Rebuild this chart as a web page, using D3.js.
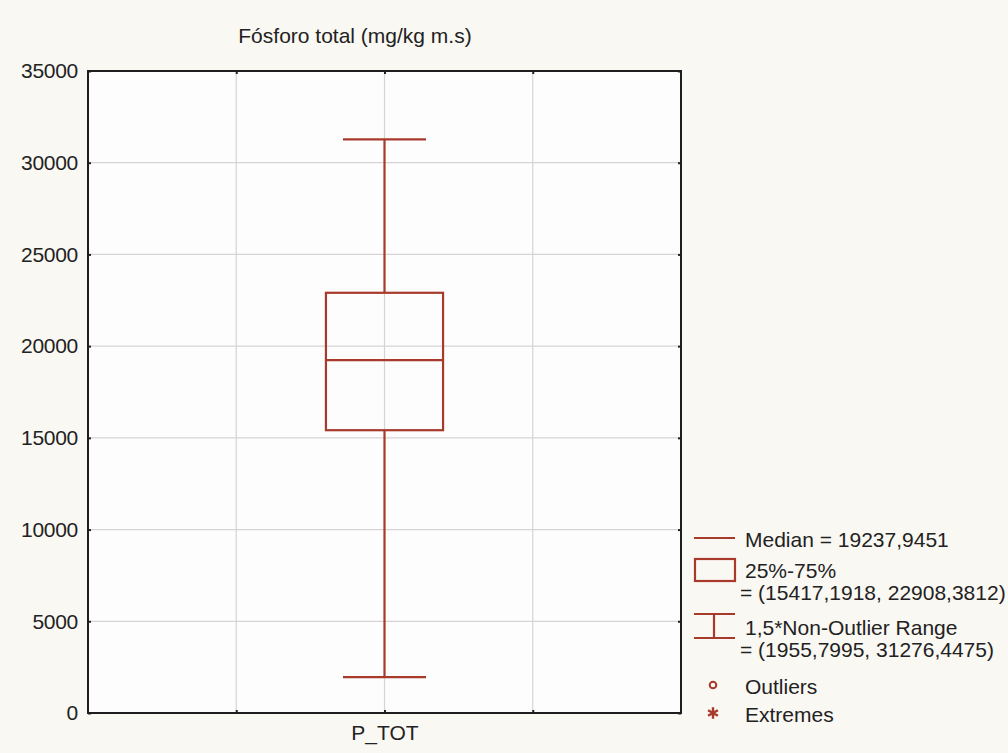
<!DOCTYPE html>
<html><head><meta charset="utf-8">
<script src="https://cdn.jsdelivr.net/npm/d3@7"></script>
<style>
html,body{margin:0;padding:0;background:#faf8f3;}
svg{display:block;font-family:"Liberation Sans",Arial,sans-serif;}
</style></head>
<body><svg id="c" width="1008" height="753"></svg>
<script>
const title = "Fósforo total (mg/kg m.s)";
const categories = ["P_TOT"];
const xSlots = ["", "P_TOT", " "];
const yTicks = [0, 5000, 10000, 15000, 20000, 25000, 30000, 35000];
const q1 = [15417.1918];
const median = [19237.9451];
const q3 = [22908.3812];
const whiskerLow = [1955.7995];
const whiskerHigh = [31276.4475];
const legendLabels = ["Median = 19237,9451", "25%-75%", "= (15417,1918, 22908,3812)",
  "1,5*Non-Outlier Range", "= (1955,7995, 31276,4475)", "Outliers", "Extremes"];

const col = "#a83a2c";
const FS = 21;
const svg = d3.select("#c");
const L = 88, R = 681, T = 71, B = 713;
const x = d3.scalePoint().domain(xSlots).range([L, R]).padding(1);
const y = d3.scaleLinear().domain([0, 35000]).range([B, T]);

svg.append("rect").attr("x", L).attr("y", T).attr("width", R - L).attr("height", B - T).attr("fill", "#fdfdfe");

// grid
const g = svg.append("g");
g.selectAll(".hg").data(yTicks.slice(1, -1)).join("line")
  .attr("x1", L).attr("x2", R).attr("y1", d => y(d)).attr("y2", d => y(d))
  .attr("stroke", "#d6d3d6").attr("stroke-width", 1.2);
g.selectAll(".vg").data(xSlots).join("line")
  .attr("x1", d => x(d)).attr("x2", d => x(d)).attr("y1", T).attr("y2", B)
  .attr("stroke", "#d6d3d6").attr("stroke-width", 1.2);

// axes
const yAxis = d3.axisLeft(y).tickValues(yTicks).tickSize(-3).tickPadding(10).tickFormat(d3.format("d"));
const ya = svg.append("g").attr("transform", `translate(${L},0)`).call(yAxis);
ya.select(".domain").remove();
ya.selectAll("text").attr("font-size", FS).attr("fill", "#222").attr("font-family", "Liberation Sans, Arial, sans-serif").attr("letter-spacing", "-0.3");
ya.selectAll("line").attr("stroke", "#222").attr("stroke-width", 2);

const xAxis = d3.axisBottom(x).tickSize(-3).tickPadding(12).tickFormat(d => categories.includes(d) ? d : "");
const xa = svg.append("g").attr("transform", `translate(0,${B})`).call(xAxis);
xa.select(".domain").remove();
xa.selectAll("text").attr("font-size", FS).attr("fill", "#222").attr("font-family", "Liberation Sans, Arial, sans-serif");
xa.selectAll("line").attr("stroke", "#222").attr("stroke-width", 2);

// top/right ticks
const ta = svg.append("g").attr("transform", `translate(0,${T})`).call(d3.axisTop(x).tickSize(-3).tickFormat(""));
ta.select(".domain").remove(); ta.selectAll("line").attr("stroke", "#222").attr("stroke-width", 2);
const ra = svg.append("g").attr("transform", `translate(${R},0)`).call(d3.axisRight(y).tickValues(yTicks).tickSize(-3).tickFormat(""));
ra.select(".domain").remove(); ra.selectAll("line").attr("stroke", "#222").attr("stroke-width", 2);

svg.append("rect").attr("x", L).attr("y", T).attr("width", R - L).attr("height", B - T)
  .attr("fill", "none").attr("stroke", "#1e1e1e").attr("stroke-width", 2);

// title
svg.append("text").attr("x", 355).attr("y", 43).attr("text-anchor", "middle")
  .attr("font-size", FS).attr("fill", "#222").text(title);

// box plot
const step = x.step();
const bw = step * 0.79, cw = step * 0.56;
const data = categories.map((c, i) => ({c, q1: q1[i], med: median[i], q3: q3[i], lo: whiskerLow[i], hi: whiskerHigh[i]}));
const bx = svg.append("g").attr("stroke", col).attr("stroke-width", 2.2).attr("fill", "none");
data.forEach(d => {
  const cx = x(d.c);
  bx.append("line").attr("x1", cx).attr("x2", cx).attr("y1", y(d.hi)).attr("y2", y(d.q3));
  bx.append("line").attr("x1", cx).attr("x2", cx).attr("y1", y(d.q1)).attr("y2", y(d.lo));
  bx.append("line").attr("x1", cx - cw / 2).attr("x2", cx + cw / 2).attr("y1", y(d.hi)).attr("y2", y(d.hi));
  bx.append("line").attr("x1", cx - cw / 2).attr("x2", cx + cw / 2).attr("y1", y(d.lo)).attr("y2", y(d.lo));
  bx.append("rect").attr("x", cx - bw / 2).attr("width", bw).attr("y", y(d.q3)).attr("height", y(d.q1) - y(d.q3));
  bx.append("line").attr("x1", cx - bw / 2).attr("x2", cx + bw / 2).attr("y1", y(d.med)).attr("y2", y(d.med));
});

// legend
const lg = svg.append("g");
const lt = (t, xx, yy) => lg.append("text").attr("x", xx).attr("y", yy).attr("font-size", FS).attr("fill", "#222").attr("dominant-baseline", "central").text(t);
lg.append("line").attr("x1", 694).attr("x2", 735).attr("y1", 538).attr("y2", 538).attr("stroke", col).attr("stroke-width", 2.2);
lt(legendLabels[0], 745, 539);
lg.append("rect").attr("x", 695).attr("y", 559).attr("width", 40).attr("height", 22).attr("fill", "none").attr("stroke", col).attr("stroke-width", 2.2);
lt(legendLabels[1], 745, 570);
lt(legendLabels[2], 740, 592);
lg.append("line").attr("x1", 694).attr("x2", 735).attr("y1", 614).attr("y2", 614).attr("stroke", col).attr("stroke-width", 2.2);
lg.append("line").attr("x1", 694).attr("x2", 735).attr("y1", 638).attr("y2", 638).attr("stroke", col).attr("stroke-width", 2.2);
lg.append("line").attr("x1", 714).attr("x2", 714).attr("y1", 614).attr("y2", 638).attr("stroke", col).attr("stroke-width", 2.2);
lt(legendLabels[3], 745, 627);
lt(legendLabels[4], 740, 649);
lg.append("circle").attr("cx", 713).attr("cy", 685).attr("r", 3.3).attr("fill", "none").attr("stroke", col).attr("stroke-width", 2);
lt(legendLabels[5], 745, 686);
lg.append("path").attr("d", d3.symbol(d3.symbolAsterisk, 90)).attr("transform", "translate(713,713)").attr("stroke", col).attr("stroke-width", 2.4);
lt(legendLabels[6], 745, 714);
</script></body></html>
